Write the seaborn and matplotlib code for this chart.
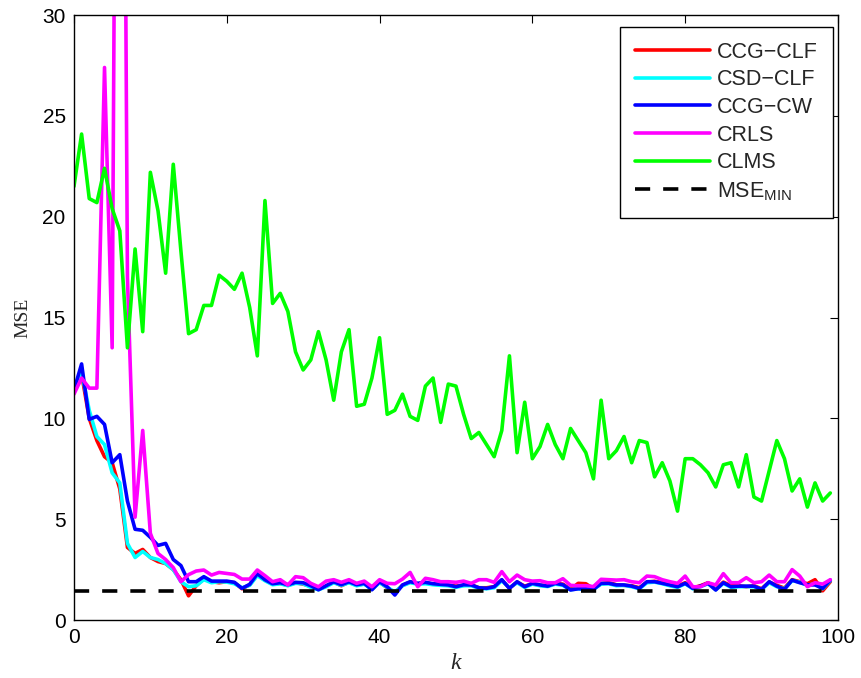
import numpy as np
import pandas as pd
import matplotlib
matplotlib.use("Agg")
import matplotlib.pyplot as plt
import seaborn as sns

k = list(range(100))

ccg_clf = [11.3, 12.2, 10.0, 8.9, 8.1, 7.8, 6.5, 3.6, 3.3, 3.5,
           3.1, 2.9, 2.8, 2.5, 2.0, 1.2, 1.7, 2.05, 1.9, 1.85,
           1.9, 1.85, 1.55, 1.75, 2.25, 1.98, 1.78, 1.82, 1.72, 1.85,
           1.78, 1.68, 1.52, 1.68, 1.88, 1.7, 1.88, 1.72, 1.8, 1.55,
           1.88, 1.6, 1.35, 1.72, 1.88, 1.8, 1.85, 1.78, 1.75, 1.72,
           1.68, 1.72, 1.75, 1.6, 1.6, 1.65, 1.98, 1.58, 1.88, 1.68,
           1.8, 1.72, 1.7, 1.8, 1.78, 1.52, 1.82, 1.8, 1.55, 1.8,
           1.85, 1.75, 1.72, 1.7, 1.6, 1.88, 1.92, 1.85, 1.72, 1.68,
           1.85, 1.6, 1.7, 1.85, 1.52, 1.88, 1.7, 1.7, 1.65, 1.7,
           1.55, 1.88, 1.72, 1.58, 2.0, 1.9, 1.8, 2.0, 1.45, 1.9]

csd_clf = [11.3, 12.3, 10.4, 9.1, 8.7, 7.3, 6.8, 3.8, 3.1, 3.4,
           3.1, 3.0, 2.8, 2.5, 1.9, 1.65, 1.7, 2.0, 1.85, 1.9,
           1.88, 1.8, 1.6, 1.72, 2.2, 1.95, 1.75, 1.8, 1.7, 1.82,
           1.8, 1.62, 1.5, 1.65, 1.85, 1.72, 1.85, 1.7, 1.78, 1.52,
           1.85, 1.62, 1.4, 1.7, 1.85, 1.78, 1.8, 1.75, 1.72, 1.7,
           1.62, 1.7, 1.7, 1.58, 1.55, 1.6, 1.95, 1.6, 1.85, 1.62,
           1.78, 1.7, 1.66, 1.78, 1.72, 1.5, 1.55, 1.5, 1.52, 1.78,
           1.8, 1.7, 1.72, 1.65, 1.55, 1.85, 1.88, 1.8, 1.7, 1.62,
           1.8, 1.55, 1.65, 1.8, 1.5, 1.82, 1.62, 1.65, 1.66, 1.65,
           1.52, 1.85, 1.65, 1.55, 1.95, 1.88, 1.72, 1.8, 1.55, 1.95]

ccg_cw = [11.4, 12.7, 9.95, 10.1, 9.7, 7.8, 8.2, 5.9, 4.5, 4.45,
          4.1, 3.7, 3.8, 3.0, 2.7, 1.9, 1.9, 2.15, 1.93, 1.93,
          1.93, 1.87, 1.57, 1.77, 2.3, 2.0, 1.8, 1.85, 1.75, 1.87,
          1.85, 1.7, 1.5, 1.7, 1.9, 1.75, 1.9, 1.75, 1.82, 1.5,
          1.9, 1.65, 1.24, 1.74, 1.9, 1.82, 1.87, 1.8, 1.77, 1.74,
          1.65, 1.75, 1.74, 1.6, 1.57, 1.65, 2.0, 1.57, 1.9, 1.65,
          1.82, 1.74, 1.68, 1.82, 1.75, 1.49, 1.55, 1.55, 1.52, 1.82,
          1.82, 1.74, 1.74, 1.68, 1.57, 1.9, 1.9, 1.82, 1.74, 1.65,
          1.82, 1.57, 1.68, 1.82, 1.49, 1.85, 1.65, 1.68, 1.68, 1.68,
          1.52, 1.9, 1.68, 1.52, 1.98, 1.85, 1.75, 1.74, 1.57, 1.98]

crls = [11.2, 12.0, 11.5, 11.5, 27.4, 13.5, 80.0, 17.0, 5.1, 9.4,
        4.3, 3.3, 3.0, 2.6, 1.9, 2.25, 2.43, 2.48, 2.23, 2.36,
        2.31, 2.26, 2.03, 2.03, 2.48, 2.2, 1.9, 2.0, 1.74, 2.15,
        2.1, 1.82, 1.65, 1.93, 2.0, 1.87, 2.0, 1.82, 1.93, 1.65,
        2.0, 1.82, 1.8, 2.03, 2.36, 1.65, 2.07, 2.0, 1.9, 1.9,
        1.87, 1.93, 1.82, 2.0, 2.0, 1.87, 2.4, 1.9, 2.23, 2.0,
        1.93, 1.95, 1.85, 1.85, 2.05, 1.72, 1.7, 1.7, 1.66, 2.02,
        2.0, 1.98, 2.0, 1.9, 1.85, 2.18, 2.15, 2.0, 1.9, 1.82,
        2.18, 1.65, 1.65, 1.85, 1.74, 2.3, 1.85, 1.85, 2.1, 1.85,
        1.9, 2.23, 1.9, 1.9, 2.5, 2.18, 1.65, 1.85, 1.78, 2.0]

clms = [21.5, 24.1, 20.9, 20.7, 22.4, 20.4, 19.3, 13.5, 18.4, 14.3,
        22.2, 20.3, 17.2, 22.6, 18.3, 14.2, 14.4, 15.6, 15.6, 17.1,
        16.8, 16.4, 17.2, 15.5, 13.1, 20.8, 15.7, 16.2, 15.3, 13.3,
        12.4, 12.9, 14.3, 12.9, 10.9, 13.3, 14.4, 10.6, 10.7, 12.0,
        14.0, 10.2, 10.4, 11.2, 10.1, 9.9, 11.6, 12.0, 9.8, 11.7,
        11.6, 10.2, 9.0, 9.3, 8.7, 8.1, 9.4, 13.1, 8.3, 10.8,
        8.0, 8.6, 9.7, 8.7, 8.0, 9.5, 8.9, 8.3, 7.0, 10.9,
        8.0, 8.4, 9.1, 7.8, 8.9, 8.8, 7.1, 7.8, 6.9, 5.4,
        8.0, 8.0, 7.7, 7.3, 6.6, 7.7, 7.8, 6.6, 8.2, 6.1,
        5.9, 7.4, 8.9, 8.0, 6.4, 7.0, 5.6, 6.8, 5.9, 6.3]

mse_min = 1.42

labels = ["CCG\u2212CLF", "CSD\u2212CLF", "CCG\u2212CW", "CRLS", "CLMS"]
colors = ["#ff0000", "#00ffff", "#0000ff", "#ff00ff", "#00ff00"]
series = [ccg_clf, csd_clf, ccg_cw, crls, clms]

x_ticks = [0, 20, 40, 60, 80, 100]
y_ticks = [0, 5, 10, 15, 20, 25, 30]

sns.set_style("white")
plt.rcParams["font.family"] = ["Liberation Sans", "DejaVu Sans"]
plt.rcParams["mathtext.fontset"] = "custom"
plt.rcParams["mathtext.rm"] = "Liberation Sans"

fig = plt.figure(figsize=(8.62, 6.78), dpi=100)
ax = fig.add_axes([0.0858, 0.0855, 0.8863, 0.8923])

lw = 2.6
for lab, col, vals in zip(labels, colors, series):
    df = pd.DataFrame({"k": k, "mse": vals})
    sns.lineplot(data=df, x="k", y="mse", color=col, linewidth=lw,
                 label=lab, ax=ax, sort=False)

df_min = pd.DataFrame({"k": k, "mse": [mse_min] * len(k)})
sns.lineplot(data=df_min, x="k", y="mse", color="black", linewidth=lw,
             dashes=False, label="MSE$_{\\mathrm{MIN}}$", ax=ax)
ax.lines[-1].set_dashes((4.2, 3.6))

ax.set_xlim(0, 100)
ax.set_ylim(0, 30)
ax.set_xticks(x_ticks)
ax.set_yticks(y_ticks)
ax.tick_params(direction="in", top=True, right=True, length=6, width=0.8,
               labelsize=15, pad=6, colors="black")
for s in ax.spines.values():
    s.set_linewidth(1.0)
    s.set_color("black")

ax.set_xlabel("k", fontsize=17, family="Liberation Serif", style="italic",
              labelpad=4)
ax.set_ylabel("MSE", fontsize=14, family="Liberation Serif", labelpad=8)

leg = ax.legend(loc="upper right", bbox_to_anchor=(0.9935, 0.981),
                fontsize=15.5, frameon=True, fancybox=False,
                edgecolor="black", handlelength=3.45, labelspacing=0.31,
                borderpad=0.7, handletextpad=0.35, borderaxespad=0.0)
leg.get_frame().set_linewidth(1.0)
leg.get_frame().set_alpha(1.0)

fig.savefig("out.png", dpi=100)
